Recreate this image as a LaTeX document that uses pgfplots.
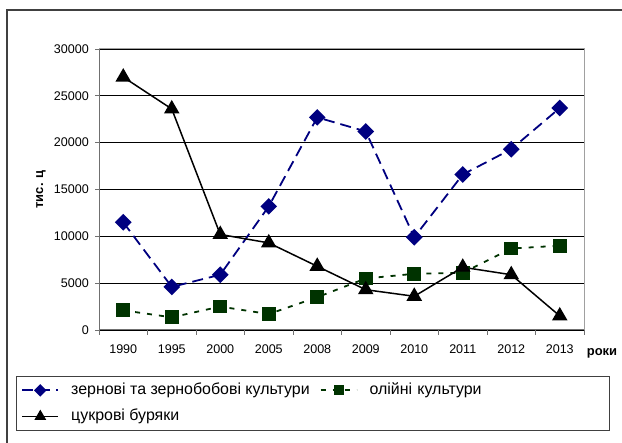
\documentclass[border=0pt]{standalone}
\usepackage{fontspec}
\setmainfont{Liberation Sans}
\usepackage{pgfplots}
\pgfplotsset{compat=1.18}
\definecolor{navyb}{HTML}{000080}
\definecolor{dgreen}{HTML}{003300}
\definecolor{framec}{HTML}{404040}
\definecolor{axisd}{HTML}{707070}
\definecolor{axisl}{HTML}{A0A0A0}
\begin{document}
\begin{tikzpicture}[x=1bp,y=1bp]
\path[use as bounding box] (0,0) rectangle (622,443);
\clip (0,0) rectangle (622,443);
\fill[white] (0,0) rectangle (622,443);
\draw[framec, line width=1.2bp] (7,-10) -- (7,433) -- (640,433);
\begin{axis}[
  at={(99bp,113bp)}, anchor=south west,
  scale only axis, width=485bp, height=281bp,
  xmin=-0.5, xmax=9.5, ymin=0, ymax=30000,
  xtick={0,...,9},
  xticklabels={1990,1995,2000,2005,2008,2009,2010,2011,2012,2013},
  minor xtick={-0.5,0.5,1.5,2.5,3.5,4.5,5.5,6.5,7.5,8.5,9.5},
  major x tick style={draw=none},
  ytick={0,5000,10000,15000,20000,25000,30000},
  scaled y ticks=false,
  /pgf/number format/1000 sep={},
  /pgf/number format/assume math mode=true,
  tick align=outside,
  major tick length=4bp, minor tick length=5bp,
  tick style={axisd, line width=0.8bp},
  xtick pos=bottom, ytick pos=left,
  ymajorgrids, major grid style={black, line width=0.7bp},
  axis line style={axisl, line width=1bp},
  ticklabel style={font=\fontsize{12.6}{14}\selectfont},
  xticklabel style={anchor=north, inner sep=0pt, yshift=-11bp},
  yticklabel style={anchor=east, inner sep=0pt, xshift=-6bp},
  ylabel={тис. ц},
  ylabel style={at={(rel axis cs:-0.1196,0.5)}, anchor=center, font=\bfseries\fontsize{13}{15}\selectfont},
  xlabel={роки},
  xlabel style={at={(rel axis cs:1.0371,-0.089)}, anchor=base, font=\bfseries\fontsize{13}{15}\selectfont},
  legend columns=2,
  legend image code/.code={\draw[mark repeat=2,mark phase=2] plot coordinates {(0bp,0bp) (18bp,0bp) (36bp,0bp)};},
  legend image post style={/tikz/every mark/.append style={scale=0.7}},
  legend style={at={(rel axis cs:-0.1711,-0.1637)}, anchor=north west,
    draw=framec, line width=0.8bp, inner xsep=5bp, inner ysep=1bp,
    font=\fontsize{16}{18}\selectfont,
    nodes={inner xsep=2bp, inner ysep=5bp, text height=12bp, text depth=4bp, align=left, anchor=west},
    /tikz/every odd column/.append style={column sep=10bp},
    /tikz/every even column/.append style={column sep=8bp},
    /tikz/column 4/.style={nodes={text width=233bp}}},
]
\addplot[navyb, line width=1.8bp, dash pattern=on 11bp off 6bp,
  mark=square*, mark size=5bp, mark options={solid, rotate=45, fill=navyb}]
  coordinates {(0,11500) (1,4600) (2,5900) (3,13200) (4,22700) (5,21200) (6,9900) (7,16600) (8,19300) (9,23700)};
\addlegendentry{зернові та зернобобові культури}
\addplot[dgreen, line width=1.8bp, dash pattern=on 5bp off 7bp,
  mark=square*, mark size=6bp, mark options={solid, fill=dgreen}]
  coordinates {(0,2100) (1,1350) (2,2500) (3,1700) (4,3500) (5,5500) (6,6000) (7,6100) (8,8700) (9,9000)};
\addlegendentry{олійні культури}
\addplot[black, line width=1.5bp,
  mark=triangle*, mark size=7.5bp, mark options={solid, fill=black}]
  coordinates {(0,27000) (1,23600) (2,10200) (3,9300) (4,6800) (5,4300) (6,3600) (7,6700) (8,5900) (9,1500)};
\addlegendentry{цукрові буряки}
\draw[axisd, line width=1bp] (rel axis cs:0,1) -- (rel axis cs:0,0) -- (rel axis cs:1,0);
\end{axis}
\end{tikzpicture}
\end{document}
